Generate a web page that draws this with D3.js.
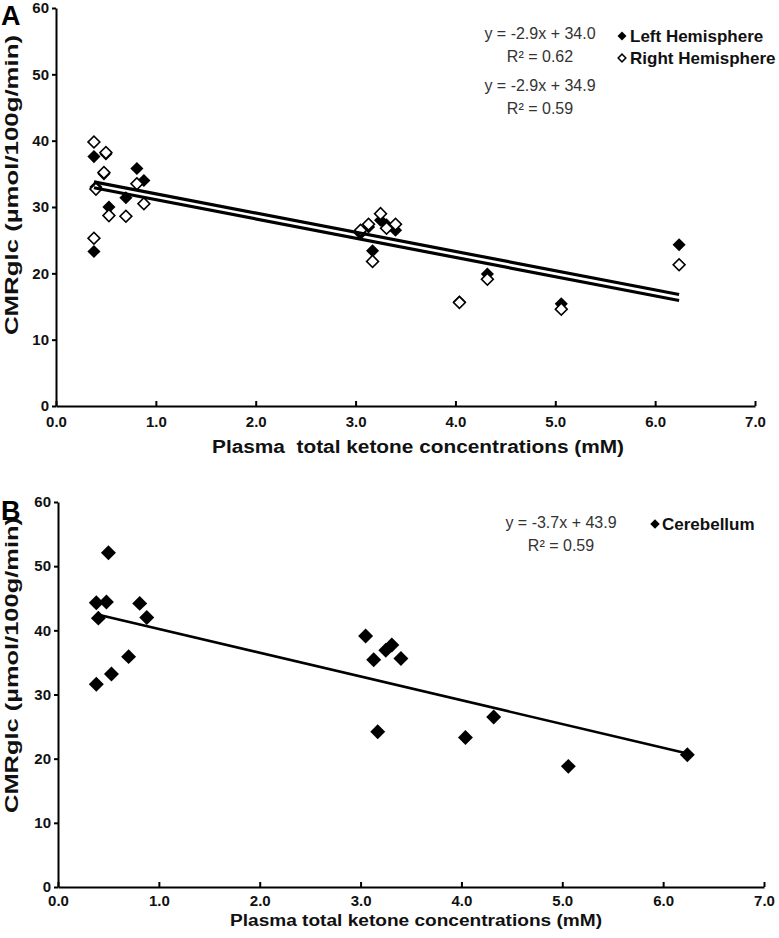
<!DOCTYPE html>
<html><head><meta charset="utf-8">
<script src="https://cdn.jsdelivr.net/npm/d3@7"></script>
<style>
body{margin:0;background:#fff;}
svg{display:block;font-family:"Liberation Sans",Arial,sans-serif;}
</style></head>
<body><svg id="chart" width="779" height="938"></svg>
<script>
// ---- data ----
const ketone = [0.38, 0.38, 0.40, 0.48, 0.50, 0.53, 0.70, 0.81, 0.88, 3.05, 3.13, 3.17, 3.25, 3.31, 3.40, 4.04, 4.32, 5.06, 6.24];
const leftHemisphere  = [37.6, 23.3, 33.0, 35.0, 38.0, 30.0, 31.4, 35.8, 34.0, 26.0, 27.0, 23.4, 28.0, 27.3, 26.5, 15.7, 19.9, 15.4, 24.3];
const rightHemisphere = [39.8, 25.3, 32.7, 35.2, 38.2, 28.7, 28.6, 33.5, 30.5, 26.5, 27.4, 21.8, 29.0, 26.8, 27.4, 15.6, 19.1, 14.6, 21.3];
const cerebellum      = [44.3, 31.6, 41.9, 44.4, 52.1, 33.2, 35.9, 44.2, 42.0, 39.1, 35.4, 24.2, 36.9, 37.7, 35.6, 23.3, 26.5, 18.8, 20.6];
const fitLeft  = {slope: -2.9, intercept: 34.0, r2: "0.62"};
const fitRight = {slope: -2.9, intercept: 34.9, r2: "0.59"};
const fitCereb = {slope: -3.7, intercept: 43.9, r2: "0.59"};
const xTicks = [0, 1, 2, 3, 4, 5, 6, 7];
const yTicks = [0, 10, 20, 30, 40, 50, 60];
const xTitleA = "Plasma  total ketone concentrations (mM)";
const xTitleB = "Plasma total ketone concentrations (mM)";
const yTitle = "CMRglc (\u00b5mol/100g/min)";

const svg = d3.select("#chart");
svg.append("rect").attr("width",779).attr("height",938).attr("fill","#fff");
const FONT = '"Liberation Sans",Arial,sans-serif';
const diamond = (s) => d3.symbol().type(d3.symbolSquare).size(s)();

function panel(cfg){
  const g = svg.append("g");
  const x = d3.scaleLinear().domain([0,7]).range([cfg.x0, cfg.x1]);
  const y = d3.scaleLinear().domain([0,60]).range([cfg.y0, cfg.y1]);
  const ax = g.append("g").attr("transform",`translate(0,${cfg.y0})`)
    .call(d3.axisBottom(x).tickValues(xTicks).tickSize(-5).tickSizeOuter(0).tickPadding(cfg.xPad).tickFormat(d3.format(".1f")));
  const ay = g.append("g").attr("transform",`translate(${cfg.x0},0)`)
    .call(d3.axisLeft(y).tickValues(yTicks).tickSize(4).tickSizeOuter(0).tickPadding(3).tickFormat(d3.format("d")));
  [ax, ay].forEach(a=>{
    a.select(".domain").attr("stroke","#000").attr("stroke-width",2);
    a.selectAll(".tick line").attr("stroke","#000").attr("stroke-width",2);
    a.selectAll(".tick text").attr("fill","#111").attr("font-size",15).attr("font-weight","bold").attr("font-family",FONT);
  });
  g.append("text").attr("x",cfg.xTitleX).attr("y",cfg.xTitleY).attr("text-anchor","middle")
    .attr("font-size",cfg.xTitleSize).attr("font-weight","bold").attr("fill","#111")
    .style("white-space","pre").attr("textLength",cfg.xTitleLen).attr("lengthAdjust","spacingAndGlyphs")
    .text(cfg.xTitle);
  g.append("text").attr("transform",`translate(${cfg.yTitleX},${cfg.yTitleY}) rotate(-90)`)
    .attr("text-anchor","middle").attr("font-size",18).attr("font-weight","bold").attr("fill","#111")
    .attr("textLength",cfg.yTitleLen).attr("lengthAdjust","spacingAndGlyphs")
    .text(yTitle);
  g.append("text").attr("x",1).attr("y",cfg.labelY).attr("font-size",27).attr("font-weight","bold").attr("fill","#000").text(cfg.label);
  return {g,x,y};
}

// ---- Panel A ----
const A = panel({x0:56,x1:755,y0:406,y1:8,xPad:10,xTitle:xTitleA,xTitleX:418,xTitleY:453,xTitleSize:18,xTitleLen:412,
  yTitleX:18,yTitleY:185,yTitleLen:300,label:"A",labelY:25});
A.g.append("g").selectAll("path").data(ketone.map((k,i)=>[k,leftHemisphere[i]])).join("path")
  .attr("d",diamond(86)).attr("fill","#000")
  .attr("transform",d=>`translate(${A.x(d[0])},${A.y(d[1])}) rotate(45)`);
A.g.append("g").selectAll("path").data(ketone.map((k,i)=>[k,rightHemisphere[i]])).join("path")
  .attr("d",diamond(70)).attr("fill","#fff").attr("stroke","#000").attr("stroke-width",1.6)
  .attr("transform",d=>`translate(${A.x(d[0])},${A.y(d[1])}) rotate(45)`);
const xr = d3.extent(ketone);
[fitLeft, fitRight].forEach(f=>{
  A.g.append("line").attr("x1",A.x(xr[0])).attr("x2",A.x(xr[1]))
    .attr("y1",A.y(f.intercept+f.slope*xr[0])).attr("y2",A.y(f.intercept+f.slope*xr[1]))
    .attr("stroke","#000").attr("stroke-width",3.2);
});
function eq(g, cx, cy, f){
  g.append("text").attr("x",cx).attr("y",cy).attr("text-anchor","middle").attr("font-size",16).attr("fill","#333")
    .text(`y = ${f.slope.toFixed(1)}x + ${f.intercept.toFixed(1)}`);
  g.append("text").attr("x",cx).attr("y",cy+23).attr("text-anchor","middle").attr("font-size",16).attr("fill","#333")
    .text(`R\u00b2 = ${f.r2}`);
}
eq(A.g, 540, 39, fitLeft);
eq(A.g, 540, 91, fitRight);
A.g.append("path").attr("d",diamond(40)).attr("fill","#000").attr("transform","translate(622,36) rotate(45)");
A.g.append("text").attr("x",630).attr("y",41.5).attr("font-size",17).attr("font-weight","bold").attr("fill","#111").text("Left Hemisphere");
A.g.append("path").attr("d",diamond(30)).attr("fill","#fff").attr("stroke","#000").attr("stroke-width",1.5).attr("transform","translate(622,58) rotate(45)");
A.g.append("text").attr("x",630).attr("y",63.5).attr("font-size",17).attr("font-weight","bold").attr("fill","#111").text("Right Hemisphere");

// ---- Panel B ----
const B = panel({x0:58,x1:764,y0:887,y1:502,xPad:8,xTitle:xTitleB,xTitleX:416,xTitleY:926,xTitleSize:16,xTitleLen:372,
  yTitleX:18,yTitleY:665,yTitleLen:296,label:"B",labelY:520});
B.g.append("g").selectAll("path").data(ketone.map((k,i)=>[k,cerebellum[i]])).join("path")
  .attr("d",diamond(112)).attr("fill","#000")
  .attr("transform",d=>`translate(${B.x(d[0])},${B.y(d[1])}) rotate(45)`);
B.g.append("line").attr("x1",B.x(xr[0])).attr("x2",B.x(xr[1]))
  .attr("y1",B.y(fitCereb.intercept+fitCereb.slope*xr[0])).attr("y2",B.y(fitCereb.intercept+fitCereb.slope*xr[1]))
  .attr("stroke","#000").attr("stroke-width",2.6);
eq(B.g, 561, 528, fitCereb);
B.g.append("path").attr("d",diamond(45)).attr("fill","#000").attr("transform","translate(655,524) rotate(45)");
B.g.append("text").attr("x",662).attr("y",530).attr("font-size",17).attr("font-weight","bold").attr("fill","#111").text("Cerebellum");
</script></body></html>
